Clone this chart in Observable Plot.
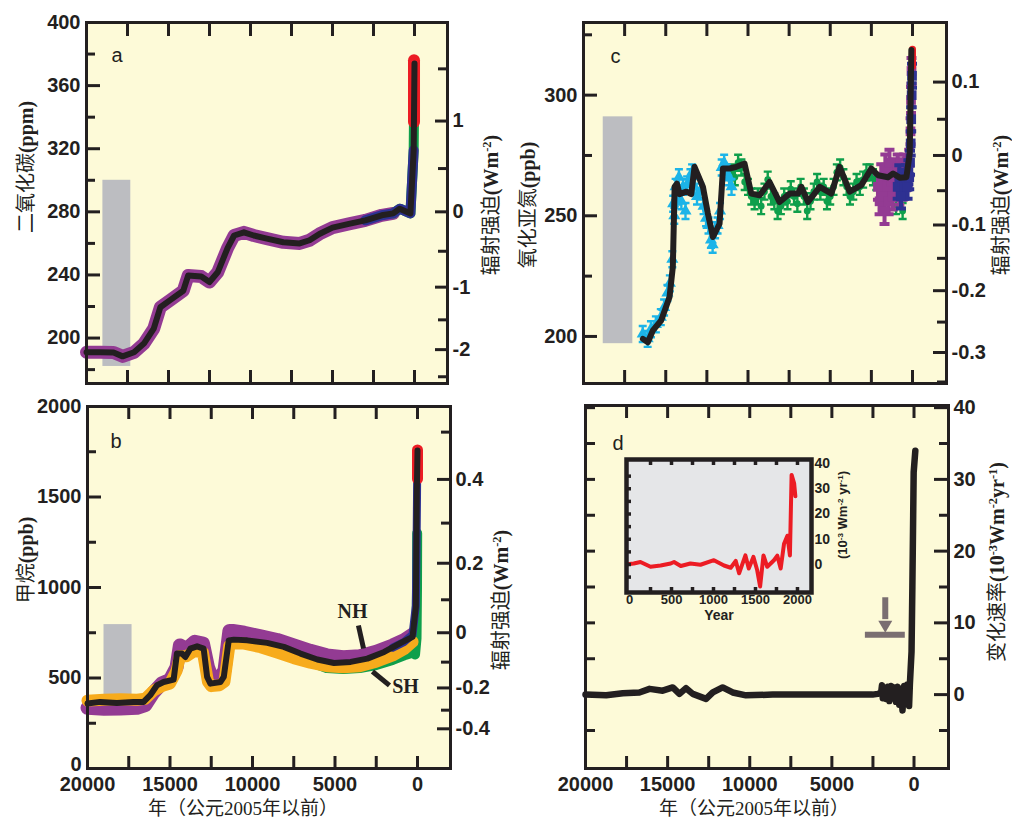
<!DOCTYPE html>
<html><head><meta charset="utf-8">
<script src="https://cdn.jsdelivr.net/npm/d3@7"></script>
<script src="https://cdn.jsdelivr.net/npm/@observablehq/plot@0.6"></script>
<style>
body{margin:0;background:#fff;}
#root{position:relative;width:1012px;height:818px;overflow:hidden;background:#fff;}
.lab{position:absolute;white-space:nowrap;transform:translate(-50%,-50%) rotate(-90deg);font-family:"Noto Sans CJK SC",sans-serif;font-size:20px;color:#231f20;line-height:1.2;}
.hl{position:absolute;white-space:nowrap;transform:translate(-50%,-50%);font-family:"Noto Sans CJK SC",sans-serif;font-size:19px;color:#231f20;line-height:1;}
.sb{font-family:"Liberation Serif","DejaVu Serif",serif;font-weight:bold;}
.sr{font-family:"Liberation Serif","DejaVu Serif",serif;}
.ib{position:absolute;white-space:nowrap;transform:translate(-50%,-50%) rotate(-90deg);font-family:"Liberation Sans",Arial,sans-serif;font-weight:bold;font-size:13px;color:#231f20;line-height:1.2;}
sup{font-size:0.62em;vertical-align:0.55em;line-height:0;}
</style></head><body><div id="root"></div><script>
// ---------------- DATA ----------------
// Panel a: CO2 (ppm), years before 2005
const co2Years = [20000, 19150, 18350, 17800, 17100, 16500, 15900, 15500, 14900, 14100, 13800, 13000, 12500, 12000, 11400, 11000, 10400, 9800, 9000, 8000, 7000, 6400, 5800, 5000, 4000, 3000, 2000, 1300, 900, 250, 50, 0];
const co2Ppm   = [191, 191, 190.8, 188.4, 191, 196.5, 206, 219.5, 224, 230, 239.7, 239, 235.5, 241.7, 257, 265, 267, 265, 263, 260.7, 260, 262, 266, 270, 272.4, 274.6, 277.8, 279, 282, 279, 319, 374];
const co2RedYears = [30, 30];
const co2RedPpm = [337, 376];
const co2Range = {years: [19000, 17300], ppm: [182, 300]};
const co2Major = [400, 360, 320, 280, 240, 200];
const co2Minor = [380, 340, 300, 260, 220, 180];
const co2RfMajor = [1, 0, -1, -2];
const co2RfMinor = [1.5, 0.5, -0.5, -1.5, -2.5];

// Panel b: CH4 (ppb)
const ch4Years = [20000, 19230, 18220, 17210, 16600, 16200, 15790, 15390, 14780, 14580, 14270, 14070, 13770, 13360, 12960, 12750, 12550, 11940, 11740, 11440, 11130, 10320, 9110, 8100, 7090, 6070, 5060, 4050, 3040, 2020, 1010, 300, 100, 40, 0];
const ch4Ppb   = [359, 368, 362, 368, 368, 405, 460, 478, 491, 635, 635, 616, 662, 675, 662, 506, 469, 478, 506, 708, 712, 708, 694, 672, 635, 602, 583, 589, 607, 644, 694, 727, 892, 1536, 1757];
const nhYears = [20000, 19000, 18000, 17000, 16500, 16000, 15500, 15000, 14600, 14400, 14000, 13500, 13000, 12700, 12500, 12000, 11700, 11400, 11200, 10500, 9500, 8500, 7500, 6500, 5500, 4500, 3500, 2500, 1500, 800, 300];
const nhPpb   = [335, 330, 332, 335, 350, 420, 470, 490, 560, 680, 660, 700, 690, 560, 510, 500, 540, 760, 760, 750, 730, 710, 680, 650, 625, 615, 620, 645, 680, 710, 740];
const shYears = [20000, 19000, 18000, 17000, 16500, 16000, 15500, 15000, 14600, 14400, 14000, 13500, 13000, 12700, 12500, 12000, 11700, 11400, 11200, 10500, 9500, 8500, 7500, 6500, 5500, 4500, 3500, 2500, 1500, 800, 300];
const shPpb   = [375, 380, 382, 380, 385, 430, 455, 470, 540, 620, 620, 650, 640, 480, 455, 460, 480, 680, 690, 690, 670, 640, 610, 585, 565, 560, 565, 590, 625, 660, 700];
const ch4GreenYears = [6500, 5500, 4500, 3500, 2500, 1500, 800, 300, 150, 60, 30, 20];
const ch4GreenPpb   = [590, 555, 550, 555, 572, 600, 625, 640, 630, 720, 1000, 1300];
const ch4BlueYears = [1500, 800, 300, 100, 50, 30, 20];
const ch4BluePpb   = [668, 700, 740, 900, 1300, 1500, 1620];
const ch4RedYears = [0, 0];
const ch4RedPpb = [1600, 1760];
const ch4Range = {years: [19000, 17300], ppb: [310, 795]};
const ch4Major = [500, 1000, 1500, 2000];
const ch4Zero = [0];
const ch4Minor = [250, 750, 1250, 1750];
const ch4RfMajor = [0.4, 0.2, 0, -0.2, -0.4];
const ch4RfMinor = [0.5, 0.3, 0.1, -0.1, -0.3];
const ch4Notes = [
  {label: "NH", year: 3940, ppb: 867, x1: 3580, y1: 790, x2: 3270, y2: 663},
  {label: "SH", year: 727, ppb: 453, x1: 2730, y1: 536, x2: 1700, y2: 459}
];

// Panel c: N2O (ppb)
const n2oYears = [16390, 16090, 15780, 15280, 14770, 14570, 14460, 14320, 14160, 13750, 13450, 13250, 12740, 12440, 12130, 11730, 11520, 11120, 10710, 10210, 9800, 9290, 8690, 8080, 7470, 6960, 6760, 6350, 5640, 4930, 4430, 3820, 3110, 2500, 2100, 1490, 1180, 780, 370, 170, 70];
const n2oPpb   = [199, 197.6, 202.5, 206.6, 216.3, 228.8, 262, 263.3, 259, 260, 259, 270.3, 262, 251, 241.2, 246.7, 269.6, 269.6, 270.3, 271.6, 259.2, 258.5, 264, 255.7, 259.2, 259.2, 262, 255.7, 262, 259.2, 270.3, 260, 262.7, 269.6, 266.8, 266, 267.5, 265.8, 266, 275.8, 318.7];
const cyanYears = [16400, 16100, 15900, 15600, 15300, 15100, 14900, 14750, 14600, 14550, 14480, 14400, 14300, 14200, 14050, 13950, 13800, 13700, 13500, 13400, 13250, 13100, 12900, 12700, 12550, 12400, 12250, 12150, 12000, 11850, 11700, 11600, 11450, 11300, 11150, 11000];
const cyanPpb   = [201, 199, 203, 205, 208, 212, 218, 222, 232, 255, 250, 262, 258, 266, 256, 262, 252, 263, 266, 268, 262, 258, 260, 254, 249, 246, 240, 238, 244, 246, 252, 270, 272, 268, 266, 262];
const greenYears = [11000, 10800, 10600, 10400, 10200, 10000, 9800, 9600, 9400, 9200, 9000, 8800, 8600, 8400, 8200, 8000, 7800, 7600, 7400, 7200, 7000, 6800, 6600, 6400, 6200, 6000, 5800, 5600, 5400, 5200, 5000, 4800, 4600, 4400, 4200, 4000, 3800, 3600, 3400, 3200, 3000, 2800, 2600, 2400, 2200, 1600, 1000, 600];
const greenPpb   = [268, 266, 272, 270, 264, 262, 258, 256, 258, 254, 260, 265, 258, 256, 252, 254, 258, 256, 261, 258, 255, 262, 258, 252, 256, 260, 264, 260, 262, 256, 258, 262, 268, 270, 266, 262, 258, 260, 264, 262, 265, 268, 268, 266, 264, 258, 254, 252];
const purpleYears = [2100, 2000, 1900, 1800, 1700, 1650, 1550, 1450, 1400, 1300, 1200, 1100, 1000, 900, 800, 700, 600, 500, 400, 300, 200, 120, 90, 60];
const purplePpb   = [262, 256, 266, 258, 252, 270, 262, 256, 272, 264, 258, 268, 262, 270, 260, 268, 262, 270, 266, 268, 272, 285, 298, 310];
const blueYears = [900, 800, 700, 600, 500, 400, 300, 250, 200, 150, 110, 80, 50, 30];
const bluePpb   = [262, 266, 258, 264, 262, 266, 262, 268, 266, 272, 280, 290, 300, 308];
const n2oRedYears = [0, 0];
const n2oRedPpb = [312, 319];
const n2oRange = {years: [18800, 17000], ppb: [197, 291]};
const n2oMajor = [300, 250, 200];
const n2oMinor = [325, 275, 225];
const n2oRfMajor = [0.1, 0, -0.1, -0.2, -0.3];
const n2oRfMinor = [0.05, -0.05, -0.15, -0.25, -0.35];
const n2oErr = 8;

// Panel d: rate of change of forcing (10^-3 W m^-2 yr^-1)
const rateYears = [20000, 18740, 17730, 16720, 16100, 15300, 14690, 14280, 13880, 13470, 12660, 12250, 11650, 11040, 10230, 8600, 6580, 4550, 2520, 2200, 2000, 1950, 1900, 1800, 1700, 1600, 1500, 1400, 1300, 1200, 1100, 1000, 900, 800, 700, 600, 500, 400, 300, 250, 150, 100, 50, 20, -80];
const rateVals  = [0, -0.1, 0.2, 0.3, 0.8, 0.55, 1.0, 0.1, 0.9, 0.1, -0.6, 0.3, 1.0, 0.3, -0.1, 0, 0, 0, 0, 0.1, 0.3, 1.3, -0.5, 0.9, -0.6, 1.1, -0.9, 1.2, -0.4, 1.0, -1.0, 1.1, -1.4, 0.8, -2.2, 1.2, -1.2, 1.4, -1.6, 1.5, 6, 15, 25, 31, 34];
const rateMajor = [40, 30, 20, 10, 0];
const rateMinor = [35, 25, 15, 5, -5];
const arrowNote = {year: 1750, top: 13.5, tip: 8.6, barY: 8.35, barFrom: 2960, barTo: 530};

// Inset: rate over the last 2000 years (calendar years)
const insetYears = [-30, 50, 130, 250, 370, 490, 530, 610, 725, 845, 1005, 1125, 1205, 1265, 1305, 1380, 1420, 1475, 1520, 1555, 1595, 1640, 1720, 1760, 1800, 1840, 1880, 1910, 1930, 1960, 1975];
const insetVals  = [0.1, 0.4, 1.0, -0.9, -0.4, 0.4, 1.0, -0.6, 0.4, -0.1, 1.7, -0.4, -1.3, 1.4, -3.5, 3.6, -1.6, 3.0, -2.2, -8.7, 3.6, -0.9, 1.7, 3.5, -1.6, 8.2, 11.4, 3.6, 35.5, 32.2, 27];
const insetXLabels = [0, 500, 1000, 1500, 2000];
const insetXTicks = [250, 500, 750, 1000, 1250, 1500, 1750, 2000];
const insetYLabels = [40, 30, 20, 10, 0];
const insetYTicks = [35, 30, 25, 20, 15, 10, 5, 0, -5];

const xTicks = [17500, 15000, 12500, 10000, 7500, 5000, 2500, 0];
const xLabels = [20000, 15000, 10000, 5000, 0];

// ---------------- STYLE ----------------
const INK = "#231f20", BG = "#fdfad8", GRAY = "#bcbdc1", PURPLE = "#933b93", BLUE = "#2e3192",
      GREEN = "#0f9f4b", CYAN = "#1cb4e8", RED = "#ec1c24", ORANGE = "#f7ab1c", MAUVE = "#7a6e71", INSETBG = "#e5e6e8";
const FONT = "'Liberation Sans', Arial, Helvetica, sans-serif";
const rows = (xs, ys) => xs.map((x, i) => ({x, y: ys[i]}));
const fmtR = v => String(Math.round(v * 100) / 100);
const fmtR1 = v => String(Math.round(v * 10) / 10);
const blank = () => "";

function tickX(values, len, sw = 3) {
  return [
    Plot.axisX(values, {anchor: "top", tickSize: -len, tickFormat: blank, strokeWidth: sw, stroke: INK, label: null}),
    Plot.axisX(values, {anchor: "bottom", tickSize: -len, tickFormat: blank, strokeWidth: sw, stroke: INK, label: null})
  ];
}
function tickY(values, anchor, len, sw = 3) {
  return Plot.axisY(values, {anchor, tickSize: -len, tickFormat: blank, strokeWidth: sw, stroke: INK, label: null});
}
function labY(values, anchor, fmt, pad = 5, size = 20, dy = 0) {
  return Plot.axisY(values, {anchor, tickSize: 0, tickPadding: pad, tickFormat: fmt, label: null, fill: INK, fontSize: size, fontWeight: "bold", fontFamily: FONT, dy});
}
function labX(values, pad = 8, size = 20) {
  return Plot.axisX(values, {anchor: "bottom", tickSize: 0, tickPadding: pad, tickFormat: d => String(d), label: null, fill: INK, fontSize: size, fontWeight: "bold", fontFamily: FONT});
}
function letter(t, dx, dy) {
  return Plot.text([t], {frameAnchor: "top-left", dx, dy, fontSize: 20, fontFamily: FONT, fill: INK});
}
const errSym = (h, w = 3.5) => ({draw(ctx) { ctx.moveTo(0, -h); ctx.lineTo(0, h); ctx.moveTo(-w, -h); ctx.lineTo(w, -h); ctx.moveTo(-w, h); ctx.lineTo(w, h); }});
const downTri = {draw(ctx) { ctx.moveTo(-7, -6); ctx.lineTo(7, -6); ctx.lineTo(0, 6); ctx.closePath(); }};

const root = document.getElementById("root");
function place(svg, left, top) {
  svg.style.position = "absolute"; svg.style.left = left + "px"; svg.style.top = top + "px";
  root.appendChild(svg);
}
function base(width, height, m, xd, yd) {
  return {width, height, marginLeft: m[0], marginRight: m[1], marginTop: m[2], marginBottom: m[3],
    x: {domain: xd}, y: {domain: yd},
    style: {background: "transparent", fontFamily: FONT, overflow: "visible", color: INK}};
}

// ---------------- PANEL A ----------------
const co2Rows = rows(co2Years, co2Ppm);
const c2F = f => 280 * Math.exp(f / 5.35);
place(Plot.plot({...base(506, 395, [86, 59, 22, 12], [20000, -2012], [171.2, 400]), marks: [
  Plot.frame({fill: BG, stroke: "none"}),
  Plot.rect([co2Range], {x1: d => d.years[0], x2: d => d.years[1], y1: d => d.ppm[0], y2: d => d.ppm[1], fill: GRAY}),
  Plot.line(co2Rows.filter(d => d.x >= 1300), {x: "x", y: "y", stroke: PURPLE, strokeWidth: 13, strokeLinejoin: "round"}),
  Plot.line(co2Rows.filter(d => d.x <= 1500), {x: "x", y: "y", stroke: GREEN, strokeWidth: 10}),
  Plot.line(co2Rows.filter(d => d.x <= 3000 && d.x >= 50), {x: "x", y: "y", stroke: BLUE, strokeWidth: 10, strokeLinejoin: "round"}),
  Plot.line(rows(co2RedYears, co2RedPpm), {x: "x", y: "y", stroke: RED, strokeWidth: 12}),
  Plot.line(co2Rows, {x: "x", y: "y", stroke: INK, strokeWidth: 6, strokeLinejoin: "round"}),
  ...tickX(xTicks, 13),
  tickY(co2Major, "left", 14), tickY(co2Minor, "left", 9),
  tickY(co2RfMajor.map(c2F), "right", 13), tickY(co2RfMinor.map(c2F), "right", 10),
  labY(co2Major, "left", d => String(d), 6),
  labY(co2RfMajor.map(c2F), "right", d => fmtR(5.35 * Math.log(d / 280)), 5),
  letter("a", 25, 25),
  Plot.frame({stroke: INK, strokeWidth: 3})
]}), 0, 0);

// ---------------- PANEL C ----------------
const n2F = f => Math.pow(Math.sqrt(275) + f / 0.112, 2);
const n2oRows = rows(n2oYears, n2oPpb);
place(Plot.plot({...base(506, 395, [77, 66, 22, 12], [20000, -2067], [180.5, 330.1]), marks: [
  Plot.frame({fill: BG, stroke: "none"}),
  Plot.rect([n2oRange], {x1: d => d.years[0], x2: d => d.years[1], y1: d => d.ppb[0], y2: d => d.ppb[1], fill: GRAY}),
  Plot.dot(rows(greenYears, greenPpb), {x: "x", y: "y", symbol: errSym(n2oErr, 4), stroke: GREEN, strokeWidth: 2.4, fill: "none"}),
  Plot.dot(rows(greenYears, greenPpb), {x: "x", y: "y", r: 3.4, fill: GREEN, stroke: "none"}),
  Plot.dot(rows(cyanYears, cyanPpb), {x: "x", y: "y", symbol: errSym(n2oErr, 4), stroke: CYAN, strokeWidth: 2.4, fill: "none"}),
  Plot.dot(rows(cyanYears, cyanPpb), {x: "x", y: "y", symbol: "triangle", r: 4.5, fill: CYAN, stroke: "none"}),
  Plot.dot(rows(purpleYears, purplePpb), {x: "x", y: "y", symbol: errSym(13, 5), stroke: PURPLE, strokeWidth: 4, fill: "none"}),
  Plot.dot(rows(purpleYears, purplePpb), {x: "x", y: "y", symbol: "square", r: 5.5, fill: PURPLE, stroke: "none"}),
  Plot.dot(rows(blueYears, bluePpb), {x: "x", y: "y", symbol: errSym(12, 5), stroke: BLUE, strokeWidth: 4, fill: "none"}),
  Plot.dot(rows(blueYears, bluePpb), {x: "x", y: "y", symbol: "square", r: 5.5, fill: BLUE, stroke: "none"}),
  Plot.line(rows(n2oRedYears, n2oRedPpb), {x: "x", y: "y", stroke: RED, strokeWidth: 7}),
  Plot.line(n2oRows, {x: "x", y: "y", stroke: INK, strokeWidth: 6, strokeLinejoin: "round"}),
  ...tickX(xTicks, 13),
  tickY(n2oMajor, "left", 14), tickY(n2oMinor, "left", 9),
  tickY(n2oRfMajor.map(n2F), "right", 14), tickY(n2oRfMinor.map(n2F), "right", 10),
  labY(n2oMajor, "left", d => String(d), 6),
  labY(n2oRfMajor.map(n2F), "right", d => fmtR(0.112 * (Math.sqrt(d) - Math.sqrt(275))), 5),
  letter("c", 27, 26),
  Plot.frame({stroke: INK, strokeWidth: 3})
]}), 506, 0);

// ---------------- PANEL B ----------------
const c4F = f => Math.pow(Math.sqrt(750) + f / 0.0318, 2);
place(Plot.plot({...base(506, 423, [87, 56, 11, 50], [20000, -2000], [0, 2000]), marks: [
  Plot.frame({fill: BG, stroke: "none"}),
  Plot.rect([ch4Range], {x1: d => d.years[0], x2: d => d.years[1], y1: d => d.ppb[0], y2: d => d.ppb[1], fill: GRAY}),
  Plot.line(rows(nhYears, nhPpb), {x: "x", y: "y", stroke: PURPLE, strokeWidth: 14, strokeLinejoin: "round"}),
  Plot.line(rows(ch4GreenYears, ch4GreenPpb), {x: "x", y: "y", stroke: GREEN, strokeWidth: 10, strokeLinejoin: "round"}),
  Plot.line(rows(shYears, shPpb), {x: "x", y: "y", stroke: ORANGE, strokeWidth: 12, strokeLinejoin: "round"}),
  Plot.line(rows(ch4BlueYears, ch4BluePpb), {x: "x", y: "y", stroke: BLUE, strokeWidth: 8, strokeLinejoin: "round"}),
  Plot.line(rows(ch4RedYears, ch4RedPpb), {x: "x", y: "y", stroke: RED, strokeWidth: 11}),
  Plot.line(rows(ch4Years, ch4Ppb), {x: "x", y: "y", stroke: INK, strokeWidth: 6, strokeLinejoin: "round"}),
  Plot.link(ch4Notes, {x1: "x1", y1: "y1", x2: "x2", y2: "y2", stroke: INK, strokeWidth: 5}),
  Plot.text(ch4Notes, {x: "year", y: "ppb", text: "label", fontFamily: "'Liberation Serif', serif", fontWeight: "bold", fontSize: 20, fill: INK}),
  ...tickX(xTicks, 12),
  tickY(ch4Major, "left", 14), tickY(ch4Minor, "left", 9),
  tickY(ch4RfMajor.map(c4F), "right", 14), tickY(ch4RfMinor.map(c4F), "right", 10),
  labY(ch4Major, "left", d => String(d), 6),
  labY(ch4Zero, "left", d => String(d), 6, 20, -4),
  labY(ch4RfMajor.map(c4F), "right", d => fmtR1(0.0318 * (Math.sqrt(d) - Math.sqrt(750))), 5),
  labX(xLabels, 8),
  letter("b", 23, 27),
  Plot.frame({stroke: INK, strokeWidth: 3})
]}), 0, 395);

// ---------------- PANEL D ----------------
place(Plot.plot({...base(506, 423, [79, 64, 10, 50], [20000, -2100], [-10.3, 40.3]), marks: [
  Plot.frame({fill: BG, stroke: "none"}),
  Plot.ruleY([arrowNote], {y: "barY", x1: "barFrom", x2: "barTo", stroke: MAUVE, strokeWidth: 6}),
  Plot.ruleX([arrowNote], {x: "year", y1: "top", y2: d => (d.top + d.tip) / 2 - 0.6, stroke: MAUVE, strokeWidth: 6}),
  Plot.dot([arrowNote], {x: "year", y: d => d.tip + 0.85, symbol: downTri, fill: MAUVE, stroke: "none"}),
  Plot.line(rows(rateYears, rateVals), {x: "x", y: "y", stroke: INK, strokeWidth: 6.5, strokeLinejoin: "round"}),
  ...tickX(xTicks, 12),
  tickY(rateMajor, "left", 10), tickY(rateMinor, "left", 10),
  tickY(rateMajor, "right", 15), tickY(rateMinor, "right", 10),
  labY(rateMajor, "right", d => String(d), 5),
  labX(xLabels, 8),
  letter("d", 27, 30),
  Plot.frame({stroke: INK, strokeWidth: 3})
]}), 506, 395);

// ---------------- INSET ----------------
place(Plot.plot({...base(232, 184, [8, 39, 7, 44], [-36, 2167], [-11.1, 41.6]), marks: [
  Plot.frame({fill: INSETBG, stroke: "none"}),
  Plot.line(rows(insetYears, insetVals), {x: "x", y: "y", stroke: RED, strokeWidth: 4, strokeLinejoin: "round"}),
  ...tickX(insetXTicks, 5, 3.5),
  tickY(insetYTicks, "left", 5, 3.5),
  Plot.axisX(insetXLabels, {anchor: "bottom", tickSize: 0, tickPadding: 2, tickFormat: d => String(d), label: null, fill: INK, fontSize: 13, fontWeight: "bold", fontFamily: FONT}),
  labY(insetYLabels, "right", d => String(d), 3, 14),
  Plot.text(["Year"], {frameAnchor: "bottom", dy: 27, fontSize: 14, fontWeight: "bold", fontFamily: FONT, fill: INK}),
  Plot.frame({stroke: INK, strokeWidth: 4.5})
]}), 618, 452);

// ---------------- TEXT LABELS ----------------
const labels = [
  ["lab", 25, 167, '二氧化碳<span class="sb">(ppm)</span>'],
  ["lab", 490, 205, '辐射强迫<span class="sb">(Wm<sup>-2</sup>)</span>'],
  ["lab", 527, 205, '氧化亚氮<span class="sb">(ppb)</span>'],
  ["lab", 1000, 205, '辐射强迫<span class="sb">(Wm<sup>-2</sup>)</span>'],
  ["lab", 25, 560, '甲烷<span class="sb">(ppb)</span>'],
  ["lab", 500, 600, '辐射强迫<span class="sb">(Wm<sup>-2</sup>)</span>'],
  ["lab", 996, 562, '变化速率<span class="sb">(10<sup>-3</sup>Wm<sup>-2</sup>yr<sup>-1</sup>)</span>'],
  ["hl", 243, 807, '年（公元<span class="sr">2005</span>年以前）'],
  ["hl", 754, 807, '年（公元<span class="sr">2005</span>年以前）'],
  ["ib", 843, 515, '(10<sup>-3</sup> Wm<sup>-2</sup> yr<sup>-1</sup>)']
];
for (const [cls, x, y, html] of labels) {
  const d = document.createElement("div");
  d.className = cls; d.style.left = x + "px"; d.style.top = y + "px"; d.innerHTML = html;
  root.appendChild(d);
}
</script></body></html>
